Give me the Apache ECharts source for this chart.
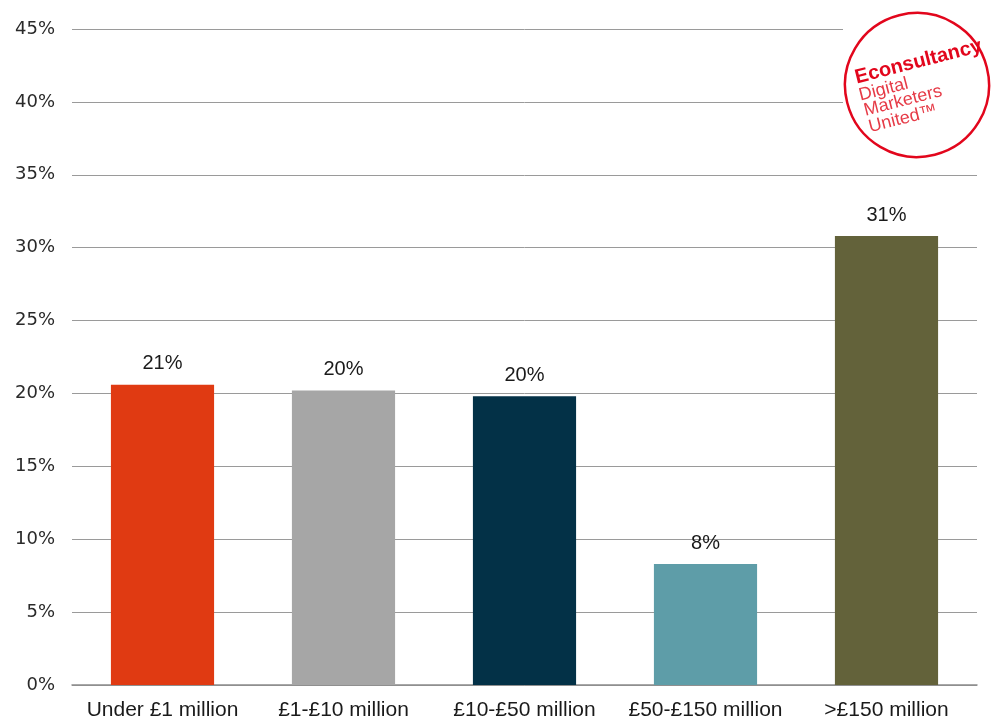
<!DOCTYPE html>
<html>
<head>
<meta charset="utf-8">
<script src="https://cdn.jsdelivr.net/npm/echarts@6/dist/echarts.min.js"></script>
<style>
  html, body { margin: 0; padding: 0; background: #fff; }
  #chart { width: 993px; height: 722px; }
</style>
</head>
<body>
<div id="chart"></div>
<script>
// Company revenue bands
var categories = ['Under £1 million', '£1-£10 million', '£10-£50 million', '£50-£150 million', '>£150 million'];
// Share of respondents (%)
var shares = [20.6, 20.2, 19.8, 8.3, 30.8];
var barColors = ['#E03A12', '#A6A6A6', '#033147', '#5E9DA8', '#63623A'];
var yTicks = { min: 0, max: 45, step: 5 };

var chart = echarts.init(document.getElementById('chart'), null, { renderer: 'canvas' });

var font = 'Liberation Sans, Arial, sans-serif';
var red = '#E2061C';
var lightRed = '#E63B47';

chart.setOption({
  animation: false,
  backgroundColor: '#ffffff',
  grid: { left: 72, right: 16, top: 29, bottom: 37, containLabel: false },
  xAxis: {
    type: 'category',
    data: categories,
    axisLine: { lineStyle: { color: '#8c8c8c', width: 1.5 } },
    axisTick: { show: false },
    axisLabel: { interval: 0, color: '#1a1a1a', fontFamily: font, fontSize: 21, margin: 15 }
  },
  yAxis: {
    type: 'value',
    min: yTicks.min,
    max: yTicks.max,
    interval: yTicks.step,
    axisLine: { show: false },
    axisTick: { show: false },
    axisLabel: { color: '#2a2a2a', fontFamily: 'DejaVu Sans, sans-serif', fontSize: 18, margin: 17, formatter: '{value}%' },
    splitLine: { lineStyle: { color: '#9a9a9a', width: 1 } }
  },
  series: [{
    type: 'bar',
    barWidth: '57%',
    data: shares.map(function (v, i) {
      return { value: v, itemStyle: { color: barColors[i] } };
    }),
    label: {
      show: true,
      position: 'top',
      distance: 11,
      color: '#1a1a1a',
      fontFamily: font,
      fontSize: 20,
      formatter: function (p) { return Math.round(p.value) + '%'; }
    }
  }],
  graphic: [
    // white backing of the badge, hides gridlines behind it
    { type: 'rect', shape: { x: 843, y: 8, width: 150, height: 156 }, style: { fill: '#ffffff' }, z: 10 },
    {
      type: 'group',
      x: 917,
      y: 85,
      rotation: 0.25,
      children: [
        { type: 'circle', z: 11, shape: { cx: 0, cy: 0, r: 72 }, style: { fill: '#fff', stroke: red, lineWidth: 2.5 } },
        { type: 'text', z: 12, x: -58, y: -22, style: { text: 'Econsultancy', fill: red, font: 'bold 20px ' + font, textVerticalAlign: 'middle' } },
        { type: 'text', z: 12, x: -58.5, y: -3.8, style: { text: 'Digital', fill: lightRed, font: '18px ' + font, textVerticalAlign: 'middle' } },
        { type: 'text', z: 12, x: -57.5, y: 12, style: { text: 'Marketers', fill: lightRed, font: '18px ' + font, textVerticalAlign: 'middle' } },
        { type: 'text', z: 12, x: -57, y: 29.3, style: { text: 'United™', fill: lightRed, font: '18px ' + font, textVerticalAlign: 'middle' } }
      ]
    }
  ]
});
</script>
</body>
</html>
